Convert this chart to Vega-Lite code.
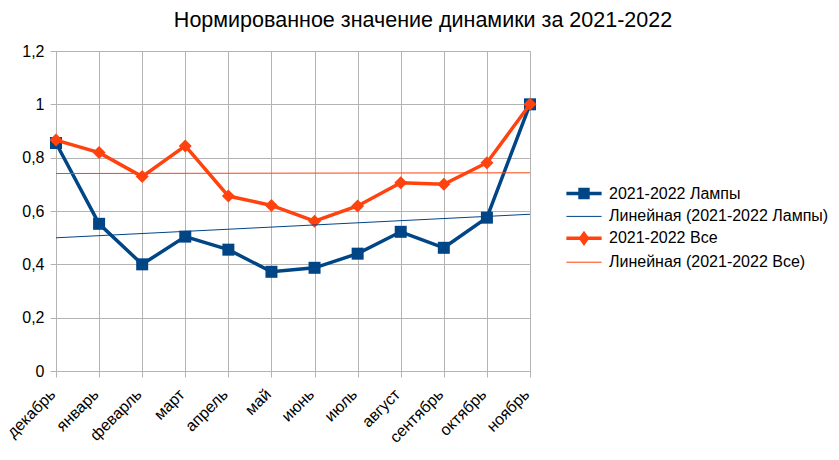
{
  "$schema": "https://vega.github.io/schema/vega-lite/v6.json",
  "width": 474,
  "height": 320,
  "autosize": "none",
  "padding": {"left": 56, "top": 51, "right": 309, "bottom": 89},
  "background": "white",
  "title": {"text": "Нормированное значение динамики за 2021-2022", "font": "Liberation Sans", "fontSize": 21.5, "fontWeight": "normal", "color": "#000000", "anchor": "middle", "offset": 12, "frame": "group", "dx": 130},
  "config": {
    "view": {"stroke": null},
    "font": "Liberation Sans",
    "axis": {"labelFont": "Liberation Sans", "labelFontSize": 16, "labelColor": "#000000", "gridColor": "#b3b3b3", "domainColor": "#b3b3b3", "tickColor": "#b3b3b3", "tickSize": 6, "title": null, "labelOverlap": false}
  },
  "datasets": {
    "main": [
      {"m": 0, "month": "декабрь", "series": "2021-2022 Лампы", "trend": "Линейная (2021-2022 Лампы)", "value": 0.855},
      {"m": 1, "month": "январь", "series": "2021-2022 Лампы", "trend": "Линейная (2021-2022 Лампы)", "value": 0.552},
      {"m": 2, "month": "феварль", "series": "2021-2022 Лампы", "trend": "Линейная (2021-2022 Лампы)", "value": 0.400},
      {"m": 3, "month": "март", "series": "2021-2022 Лампы", "trend": "Линейная (2021-2022 Лампы)", "value": 0.504},
      {"m": 4, "month": "апрель", "series": "2021-2022 Лампы", "trend": "Линейная (2021-2022 Лампы)", "value": 0.455},
      {"m": 5, "month": "май", "series": "2021-2022 Лампы", "trend": "Линейная (2021-2022 Лампы)", "value": 0.372},
      {"m": 6, "month": "июнь", "series": "2021-2022 Лампы", "trend": "Линейная (2021-2022 Лампы)", "value": 0.387},
      {"m": 7, "month": "июль", "series": "2021-2022 Лампы", "trend": "Линейная (2021-2022 Лампы)", "value": 0.440},
      {"m": 8, "month": "август", "series": "2021-2022 Лампы", "trend": "Линейная (2021-2022 Лампы)", "value": 0.522},
      {"m": 9, "month": "сентябрь", "series": "2021-2022 Лампы", "trend": "Линейная (2021-2022 Лампы)", "value": 0.462},
      {"m": 10, "month": "октябрь", "series": "2021-2022 Лампы", "trend": "Линейная (2021-2022 Лампы)", "value": 0.575},
      {"m": 11, "month": "ноябрь", "series": "2021-2022 Лампы", "trend": "Линейная (2021-2022 Лампы)", "value": 1.0},
      {"m": 0, "month": "декабрь", "series": "2021-2022 Все", "trend": "Линейная (2021-2022 Все)", "value": 0.866},
      {"m": 1, "month": "январь", "series": "2021-2022 Все", "trend": "Линейная (2021-2022 Все)", "value": 0.819},
      {"m": 2, "month": "феварль", "series": "2021-2022 Все", "trend": "Линейная (2021-2022 Все)", "value": 0.729},
      {"m": 3, "month": "март", "series": "2021-2022 Все", "trend": "Линейная (2021-2022 Все)", "value": 0.844},
      {"m": 4, "month": "апрель", "series": "2021-2022 Все", "trend": "Линейная (2021-2022 Все)", "value": 0.656},
      {"m": 5, "month": "май", "series": "2021-2022 Все", "trend": "Линейная (2021-2022 Все)", "value": 0.621},
      {"m": 6, "month": "июнь", "series": "2021-2022 Все", "trend": "Линейная (2021-2022 Все)", "value": 0.562},
      {"m": 7, "month": "июль", "series": "2021-2022 Все", "trend": "Линейная (2021-2022 Все)", "value": 0.619},
      {"m": 8, "month": "август", "series": "2021-2022 Все", "trend": "Линейная (2021-2022 Все)", "value": 0.706},
      {"m": 9, "month": "сентябрь", "series": "2021-2022 Все", "trend": "Линейная (2021-2022 Все)", "value": 0.700},
      {"m": 10, "month": "октябрь", "series": "2021-2022 Все", "trend": "Линейная (2021-2022 Все)", "value": 0.781},
      {"m": 11, "month": "ноябрь", "series": "2021-2022 Все", "trend": "Линейная (2021-2022 Все)", "value": 1.0}
    ]
  },
  "data": {"name": "main"},
  "encoding": {
    "x": {"field": "m", "type": "quantitative", "scale": {"domain": [0, 11], "nice": false, "zero": false},
      "axis": {"values": [0,1,2,3,4,5,6,7,8,9,10,11], "grid": true, "labelAngle": -45, "labelAlign": "right", "labelBaseline": "alphabetic", "labelPadding": 18,
        "labelExpr": "['декабрь','январь','феварль','март','апрель','май','июнь','июль','август','сентябрь','октябрь','ноябрь'][datum.value]"}},
    "y": {"field": "value", "type": "quantitative", "scale": {"domain": [0, 1.2], "nice": false},
      "axis": {"values": [0, 0.2, 0.4, 0.6, 0.8, 1, 1.2], "grid": true, "labelPadding": 6, "labelExpr": "replace(format(datum.value, '~g'), '.', ',')"}}
  },
  "layer": [
    {
      "transform": [{"filter": "datum.series === '2021-2022 Лампы'"}],
      "mark": {"type": "line", "strokeWidth": 3.5},
      "encoding": {
        "stroke": {"field": "series", "type": "nominal",
          "scale": {"type": "ordinal", "domain": ["2021-2022 Лампы", "Линейная (2021-2022 Лампы)", "2021-2022 Все", "Линейная (2021-2022 Все)"], "range": ["#004586", "#004586", "#ff420e", "#ff420e"]}}
      }
    },
    {
      "transform": [{"filter": "datum.series === '2021-2022 Лампы'"}],
      "mark": {"type": "point", "shape": "square", "filled": true, "size": 144, "opacity": 1, "fill": "#004586"}
    },
    {
      "transform": [{"filter": "datum.series === '2021-2022 Все'"}],
      "mark": {"type": "line", "strokeWidth": 3.5},
      "encoding": {
        "stroke": {"field": "series", "type": "nominal"}
      }
    },
    {
      "transform": [{"filter": "datum.series === '2021-2022 Все'"}],
      "mark": {"type": "point", "shape": "diamond", "filled": true, "size": 169, "opacity": 1, "fill": "#ff420e"}
    },
    {
      "transform": [{"regression": "value", "on": "m", "groupby": ["trend"], "extent": [0, 11]}],
      "mark": {"type": "line", "strokeWidth": 1},
      "encoding": {
        "stroke": {"field": "trend", "type": "nominal"}
      }
    },
    {
      "transform": [{"filter": "false"}],
      "mark": {"type": "point", "opacity": 1},
      "encoding": {
        "fill": {"field": "series", "type": "nominal",
          "scale": {"type": "ordinal", "domain": ["2021-2022 Лампы", "Линейная (2021-2022 Лампы)", "2021-2022 Все", "Линейная (2021-2022 Все)"], "range": ["#004586", "#ffffff00", "#ff420e", "#ffffff00"]}},
        "shape": {"field": "series", "type": "nominal",
          "scale": {"type": "ordinal", "domain": ["2021-2022 Лампы", "Линейная (2021-2022 Лампы)", "2021-2022 Все", "Линейная (2021-2022 Все)"],
            "range": ["M-1.6,0H1.6M-0.36,-0.36H0.36V0.36H-0.36Z", "M-1.6,0H1.6", "M-1.6,0H1.6M0,-0.42L0.3,0L0,0.42L-0.3,0Z", "M-1.6,0H1.6"]}},
        "strokeWidth": {"field": "series", "type": "nominal",
          "scale": {"type": "ordinal", "domain": ["2021-2022 Лампы", "Линейная (2021-2022 Лампы)", "2021-2022 Все", "Линейная (2021-2022 Все)"], "range": [3.5, 1, 3.5, 1]}},
        "stroke": {"field": "series", "type": "nominal",
          "scale": {"type": "ordinal", "domain": ["2021-2022 Лампы", "Линейная (2021-2022 Лампы)", "2021-2022 Все", "Линейная (2021-2022 Все)"], "range": ["#004586", "#004586", "#ff420e", "#ff420e"]},
          "legend": {"title": null, "orient": "none", "legendX": 515, "legendY": 129.5, "padding": 0, "symbolSize": 484, "labelOffset": 12, "rowPadding": 0.4,
            "labelFont": "Liberation Sans", "labelFontSize": 16, "labelColor": "#000000", "labelLimit": 300, "symbolOpacity": 1}}
      }
    }
  ]
}
